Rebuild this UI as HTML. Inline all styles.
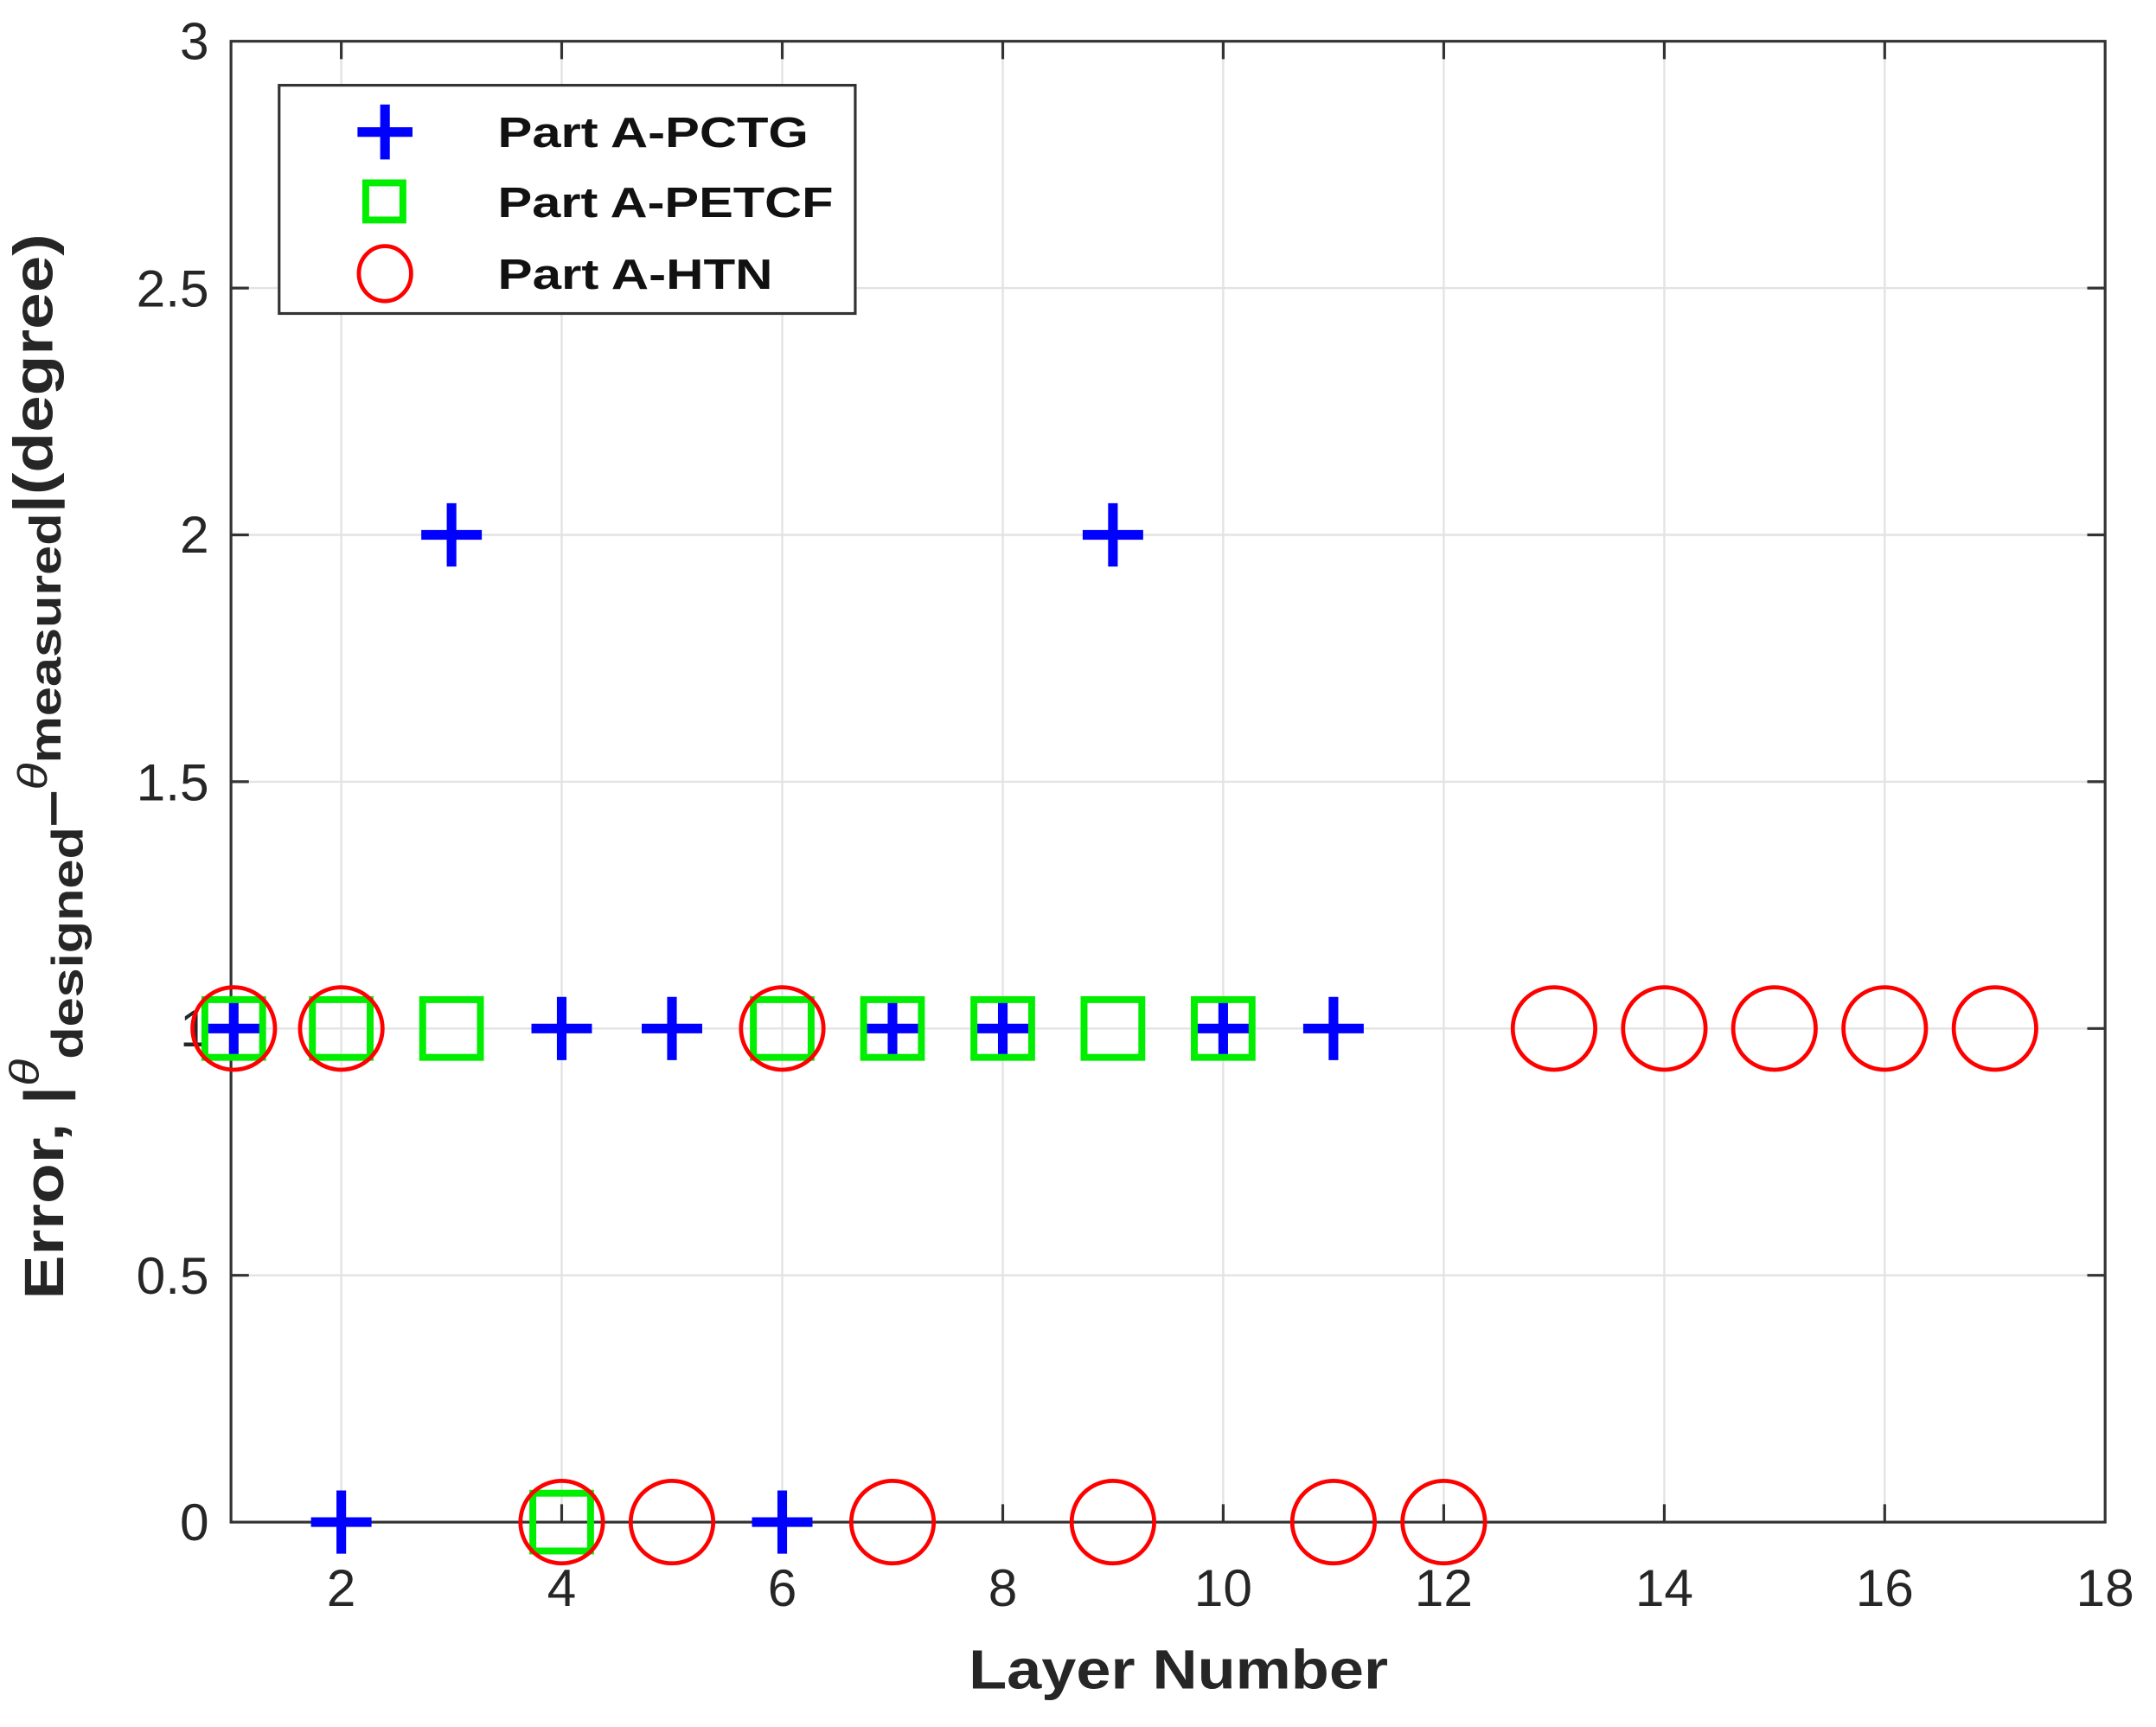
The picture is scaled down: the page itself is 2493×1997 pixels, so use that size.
<!DOCTYPE html>
<html><head><style>html,body{margin:0;padding:0;background:#fff}svg{display:block}</style></head>
<body>
<svg xmlns="http://www.w3.org/2000/svg" width="2493" height="1997" viewBox="0 0 1568 1256" preserveAspectRatio="none" font-family="Liberation Sans, Arial, sans-serif">
<rect width="1568" height="1256" fill="#fff"/>
<g stroke="#e3e3e3" stroke-width="1.5">
<line x1="248.2" y1="30" x2="248.2" y2="1107"/><line x1="408.5" y1="30" x2="408.5" y2="1107"/>
<line x1="568.9" y1="30" x2="568.9" y2="1107"/><line x1="729.3" y1="30" x2="729.3" y2="1107"/>
<line x1="889.6" y1="30" x2="889.6" y2="1107"/><line x1="1050" y1="30" x2="1050" y2="1107"/>
<line x1="1210.4" y1="30" x2="1210.4" y2="1107"/><line x1="1370.7" y1="30" x2="1370.7" y2="1107"/>
<line x1="168" y1="927.5" x2="1531" y2="927.5"/><line x1="168" y1="748" x2="1531" y2="748"/>
<line x1="168" y1="568.5" x2="1531" y2="568.5"/><line x1="168" y1="389" x2="1531" y2="389"/>
<line x1="168" y1="209.5" x2="1531" y2="209.5"/>
</g>
<g stroke="#333" stroke-width="2">
<rect x="168" y="30" width="1363" height="1077" fill="none"/>
<path d="M248.2 1107v-13M408.5 1107v-13M568.9 1107v-13M729.3 1107v-13M889.6 1107v-13M1050 1107v-13M1210.4 1107v-13M1370.7 1107v-13
M248.2 30v13M408.5 30v13M568.9 30v13M729.3 30v13M889.6 30v13M1050 30v13M1210.4 30v13M1370.7 30v13
M168 927.5h13M168 748h13M168 568.5h13M168 389h13M168 209.5h13
M1531 927.5h-13M1531 748h-13M1531 568.5h-13M1531 389h-13M1531 209.5h-13"/>
</g>
<g font-size="38" fill="#262626" text-anchor="end">
<text x="152" y="1120">0</text><text x="152" y="941">0.5</text><text x="152" y="761">1</text>
<text x="152" y="582">1.5</text><text x="152" y="402">2</text><text x="152" y="223">2.5</text><text x="152" y="43">3</text>
</g>
<g font-size="38" fill="#262626" text-anchor="middle">
<text x="248.2" y="1168">2</text><text x="408.5" y="1168">4</text><text x="568.9" y="1168">6</text>
<text x="729.3" y="1168">8</text><text x="889.6" y="1168">10</text><text x="1050" y="1168">12</text>
<text x="1210.4" y="1168">14</text><text x="1370.7" y="1168">16</text><text x="1531" y="1168">18</text>
</g>
<text x="857" y="1228" font-size="40" font-weight="bold" fill="#262626" text-anchor="middle" textLength="305" lengthAdjust="spacingAndGlyphs">Layer Number</text>
<text transform="translate(46,945) rotate(-90)" font-size="40" font-weight="bold" fill="#262626" textLength="775" lengthAdjust="spacingAndGlyphs">Error, |<tspan font-style="italic" font-weight="normal" dy="-18" font-size="30">θ</tspan><tspan dy="32" font-size="32">designed</tspan><tspan dy="-10">–</tspan><tspan font-style="italic" font-weight="normal" dy="-16" font-size="30">θ</tspan><tspan dy="10" font-size="32">measured</tspan><tspan dy="-6">|(degree)</tspan></text>
<g stroke="#0000ff" stroke-width="7" fill="none">
<path d="M148 748h44M170 725v46M226.2 1107h44M248.2 1084v46M306.4 389h44M328.4 366v46M386.5 748h44M408.5 725v46M466.7 748h44M488.7 725v46M546.9 1107h44M568.9 1084v46M627.1 748h44M649.1 725v46M707.3 748h44M729.3 725v46M787.4 389h44M809.4 366v46M867.6 748h44M889.6 725v46M947.8 748h44M969.8 725v46"/>
</g>
<g stroke="#00ee00" stroke-width="5" fill="none">
<rect x="149" y="727" width="42" height="42"/><rect x="227.2" y="727" width="42" height="42"/>
<rect x="307.4" y="727" width="42" height="42"/><rect x="387.5" y="1086" width="42" height="42"/>
<rect x="547.9" y="727" width="42" height="42"/><rect x="628.1" y="727" width="42" height="42"/>
<rect x="708.3" y="727" width="42" height="42"/><rect x="788.4" y="727" width="42" height="42"/>
<rect x="868.6" y="727" width="42" height="42"/>
</g>
<g stroke="#ff0000" stroke-width="3" fill="none">
<ellipse cx="170" cy="748" rx="30" ry="30"/><ellipse cx="248.2" cy="748" rx="30" ry="30"/>
<ellipse cx="408.5" cy="1107" rx="30" ry="30"/><ellipse cx="488.7" cy="1107" rx="30" ry="30"/>
<ellipse cx="568.9" cy="748" rx="30" ry="30"/><ellipse cx="649.1" cy="1107" rx="30" ry="30"/>
<ellipse cx="809.4" cy="1107" rx="30" ry="30"/><ellipse cx="969.8" cy="1107" rx="30" ry="30"/>
<ellipse cx="1050" cy="1107" rx="30" ry="30"/><ellipse cx="1130.2" cy="748" rx="30" ry="30"/>
<ellipse cx="1210.4" cy="748" rx="30" ry="30"/><ellipse cx="1290.5" cy="748" rx="30" ry="30"/>
<ellipse cx="1370.7" cy="748" rx="30" ry="30"/><ellipse cx="1450.9" cy="748" rx="30" ry="30"/>
</g>
<rect x="203" y="62" width="419" height="166" fill="#fff" stroke="#333" stroke-width="2"/>
<path d="M260 96h40M280 76v40" stroke="#0000ff" stroke-width="7"/>
<rect x="266" y="133" width="27" height="27" fill="none" stroke="#00ee00" stroke-width="5"/>
<ellipse cx="280" cy="199" rx="19" ry="20" fill="none" stroke="#ff0000" stroke-width="3"/>
<g font-size="31" font-weight="bold" fill="#111">
<text x="362" y="107" textLength="226" lengthAdjust="spacingAndGlyphs">Part A-PCTG</text>
<text x="362" y="158" textLength="244" lengthAdjust="spacingAndGlyphs">Part A-PETCF</text>
<text x="362" y="210" textLength="200" lengthAdjust="spacingAndGlyphs">Part A-HTN</text>
</g>
</svg>
</body></html>
